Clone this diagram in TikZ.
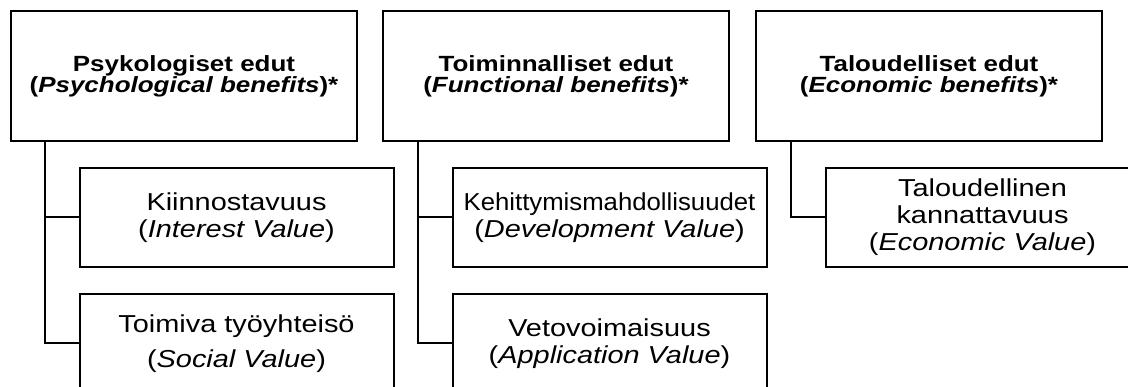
\documentclass[tikz,border=0pt]{standalone}
\usepackage{fontspec}
\setmainfont{Liberation Sans}[FakeStretch=1.18]
\usetikzlibrary{calc}
\tikzset{
  every node/.style={inner sep=0pt, outer sep=0pt},
  topbox/.style={draw, line width=2pt, minimum width=346pt, minimum height=130pt, align=center,
    font=\fontsize{22}{21}\selectfont\bfseries},
  kidbox/.style={draw, line width=2pt, minimum width=314pt, minimum height=99pt, align=center,
    font=\fontsize{24.5}{27}\selectfont},
  link/.style={line width=2pt}
}
\begin{document}
\begin{tikzpicture}[x=1pt,y=-1pt]
\useasboundingbox (0,0) rectangle (1128,387);
\clip (0,0) rectangle (1128,387);
\node[topbox] (b1) at (184,76) {Psykologiset edut\\(\textit{Psychological benefits})*};
\node[topbox] (b2) at (556,76) {Toiminnalliset edut\\(\textit{Functional benefits})*};
\node[topbox] (b3) at (929,76) {Taloudelliset edut\\(\textit{Economic benefits})*};
\node[kidbox] (c1) at (236.5,217.5) {Kiinnostavuus\\(\textit{Interest Value})};
\node[kidbox] (c4) at (236.5,343.5) {Toimiva työyhteisö\\[8pt](\textit{Social Value})};
\node[kidbox] (c2) at (609.5,217.5) {\scalebox{0.89}[1]{Kehittymismahdollisuudet}\\(\textit{Development Value})};
\node[kidbox] (c5) at (609.5,343.5) {Vetovoimaisuus\\(\textit{Application Value})};
\node[kidbox] (c3) at (982.5,217.5) {Taloudellinen\\kannattavuus\\(\textit{Economic Value})};
\coordinate (j1) at ($(b1.south west)+(34,0)$);
\coordinate (j2) at ($(b2.south west)+(35,0)$);
\coordinate (j3) at ($(b3.south west)+(35,0)$);
\draw[link] (j1) |- (c1.west);
\draw[link] (j1) |- (c4.west);
\draw[link] (j2) |- (c2.west);
\draw[link] (j2) |- (c5.west);
\draw[link] (j3) |- (c3.west);
\end{tikzpicture}
\end{document}
